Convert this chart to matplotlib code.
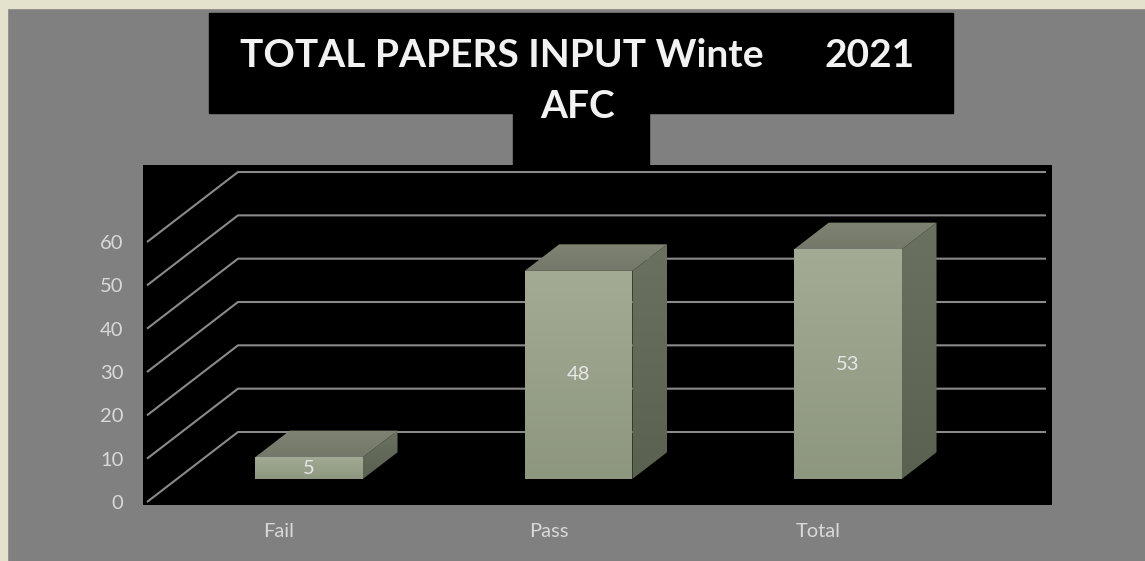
import numpy as np
import matplotlib
matplotlib.use('Agg')
import matplotlib.pyplot as plt
from matplotlib.patches import Polygon, Rectangle
from matplotlib.colors import LinearSegmentedColormap

categories = ['Fail', 'Pass', 'Total']
values = [5, 48, 53]
yticks = [0, 10, 20, 30, 40, 50, 60]

W, H = 1145, 561
fig = plt.figure(figsize=(W / 100, H / 100), dpi=100)
fig.patch.set_facecolor('#808080')
plt.rcParams['font.family'] = ['Lato', 'DejaVu Sans']

# beige frame on top/left
fig.patches.append(Rectangle((0, 0), 7 / W, 1, transform=fig.transFigure, color='#e4e1cc', zorder=0))
fig.patches.append(Rectangle((0, 1 - 8 / H), 1, 8 / H, transform=fig.transFigure, color='#e4e1cc', zorder=0))

# title box
def px_rect(x0, y0, x1, y1, color):
    fig.patches.append(Rectangle((x0 / W, 1 - y1 / H), (x1 - x0) / W, (y1 - y0) / H,
                                 transform=fig.transFigure, color=color, zorder=1))

px_rect(209, 13, 953, 113, 'black')
px_rect(513, 112, 649, 166, 'black')
fig.text(240 / W, 1 - 67 / H, 'TOTAL PAPERS INPUT Winte', color='#f2f2f2', fontsize=28,
         fontweight='bold', ha='left', va='baseline', zorder=3)
fig.text(915 / W, 1 - 67 / H, '2021', color='#f2f2f2', fontsize=28,
         fontweight='bold', ha='right', va='baseline', zorder=3)
fig.text(578 / W, 1 - 118 / H, 'AFC', color='#f2f2f2', fontsize=28,
         fontweight='bold', ha='center', va='baseline', zorder=3)

# plot area
ax = fig.add_axes([143 / W, 1 - 505 / H, 909 / W, 340 / H])
ax.set_facecolor('black')
for s in ax.spines.values():
    s.set_visible(False)

ux = 269.5   # px per category
uy = 4.333   # px per value unit
DX = 91 / ux
DY = 70 / uy
d0, d1 = 0.33, 0.71
hw = 0.2

def P(x, y, d):
    return (x + d * DX, y + d * DY)

# gridlines: left wall diagonal + back wall horizontal
x_left = (147 - 279) / ux
x_right = (1046 - 279) / ux
for v in yticks:
    a = P(x_left, v, 0)
    b = P(x_left, v, 1)
    ax.plot([a[0], b[0], x_right], [a[1], b[1], b[1]], color='#8a8a8a', lw=1.5,
            solid_capstyle='butt', zorder=1)

def grad_poly(verts, c_top, c_bot, z):
    poly = Polygon(verts, closed=True, facecolor='none', edgecolor='none')
    ax.add_patch(poly)
    xs = [p[0] for p in verts]
    ys = [p[1] for p in verts]
    cmap = LinearSegmentedColormap.from_list('g', [c_bot, c_top])
    grad = np.linspace(0, 1, 256).reshape(-1, 1)
    im = ax.imshow(grad, extent=[min(xs), max(xs), min(ys), max(ys)], origin='lower',
                   cmap=cmap, aspect='auto', zorder=z, interpolation='bilinear')
    im.set_clip_path(poly)

for i, v in enumerate(values):
    front = [P(i - hw, 0, d0), P(i + hw, 0, d0), P(i + hw, v, d0), P(i - hw, v, d0)]
    top = [P(i - hw, v, d0), P(i + hw, v, d0), P(i + hw, v, d1), P(i - hw, v, d1)]
    side = [P(i + hw, 0, d0), P(i + hw, 0, d1), P(i + hw, v, d1), P(i + hw, v, d0)]
    grad_poly(side, '#6b7160', '#5b6150', 2)
    grad_poly(top, '#7e8372', '#73786a', 2)
    grad_poly(front, '#a4ab95', '#8d967e', 3)
    cx, cy = P(i, v / 2, d0)
    ax.text(cx, cy, str(v), color='#e6e6e6', fontsize=14.5, ha='center', va='center', zorder=5)

ax.set_xlim(-136 / ux, -136 / ux + 909 / ux)
ax.set_ylim(-3 / uy, -3 / uy + 340 / uy)
ax.set_yticks(yticks)
ax.set_yticklabels([str(t) for t in yticks])
ax.set_xticks(range(len(categories)))
ax.set_xticklabels(categories)
ax.tick_params(axis='both', length=0, colors='#d9d9d9', labelsize=14.5)
ax.tick_params(axis='y', pad=14)
ax.tick_params(axis='x', pad=13)

fig.savefig('out.png', dpi=100, facecolor=fig.get_facecolor())
